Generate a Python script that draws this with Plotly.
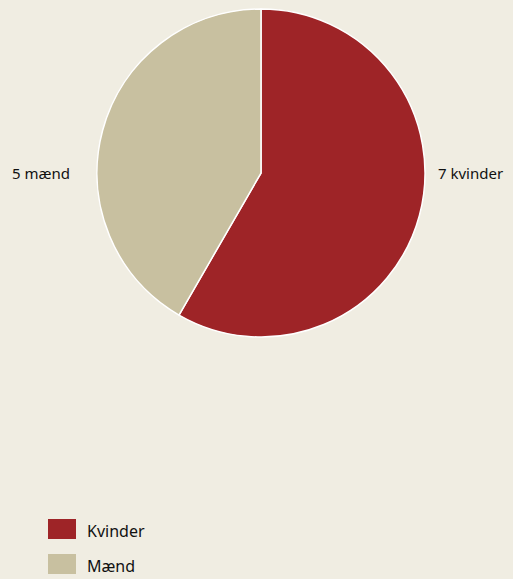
import plotly.graph_objects as go

categories = ["Kvinder", "Mænd"]
values = [7, 5]
slice_labels = ["7 kvinder", "5 mænd"]
colors = ["#9e2427", "#c8c0a0"]

W, H = 513, 579
BG = "#f0ede2"
FONT = "Noto Sans"

fig = go.Figure()
fig.add_trace(go.Pie(
    labels=categories,
    values=values,
    sort=False,
    direction="clockwise",
    rotation=0,
    textinfo="none",
    hoverinfo="label+value",
    marker=dict(colors=colors, line=dict(color="white", width=1.5)),
    domain=dict(x=[97 / W, 425 / W], y=[1 - 337 / H, 1 - 9 / H]),
    showlegend=False,
))

# slice labels
fig.add_annotation(x=436 / W, y=1 - 173 / H, xref="paper", yref="paper",
                   text=slice_labels[0], showarrow=False, xanchor="left", yanchor="middle",
                   font=dict(family=FONT, size=15, color="#111111"))
fig.add_annotation(x=10 / W, y=1 - 173 / H, xref="paper", yref="paper",
                   text=slice_labels[1], showarrow=False, xanchor="left", yanchor="middle",
                   font=dict(family=FONT, size=15, color="#111111"))

# custom legend
leg_y = [529, 564]
for cat, col, yc in zip(categories, colors, leg_y):
    fig.add_shape(type="rect", xref="paper", yref="paper",
                  x0=48 / W, x1=76 / W, y0=1 - (yc + 10) / H, y1=1 - (yc - 10) / H,
                  fillcolor=col, line=dict(width=0))
    fig.add_annotation(x=85 / W, y=1 - (yc + 2) / H, xref="paper", yref="paper",
                       text=cat, showarrow=False, xanchor="left", yanchor="middle",
                       font=dict(family=FONT, size=16, color="#111111"))

fig.update_layout(
    width=W, height=H,
    margin=dict(l=0, r=0, t=0, b=0),
    paper_bgcolor=BG, plot_bgcolor=BG,
)

fig.write_html(
    "out.html",
    config={"displayModeBar": False},
    post_script="document.body.style.margin='0';document.body.style.overflow='hidden';"
                "document.documentElement.style.background='" + BG + "';",
)
